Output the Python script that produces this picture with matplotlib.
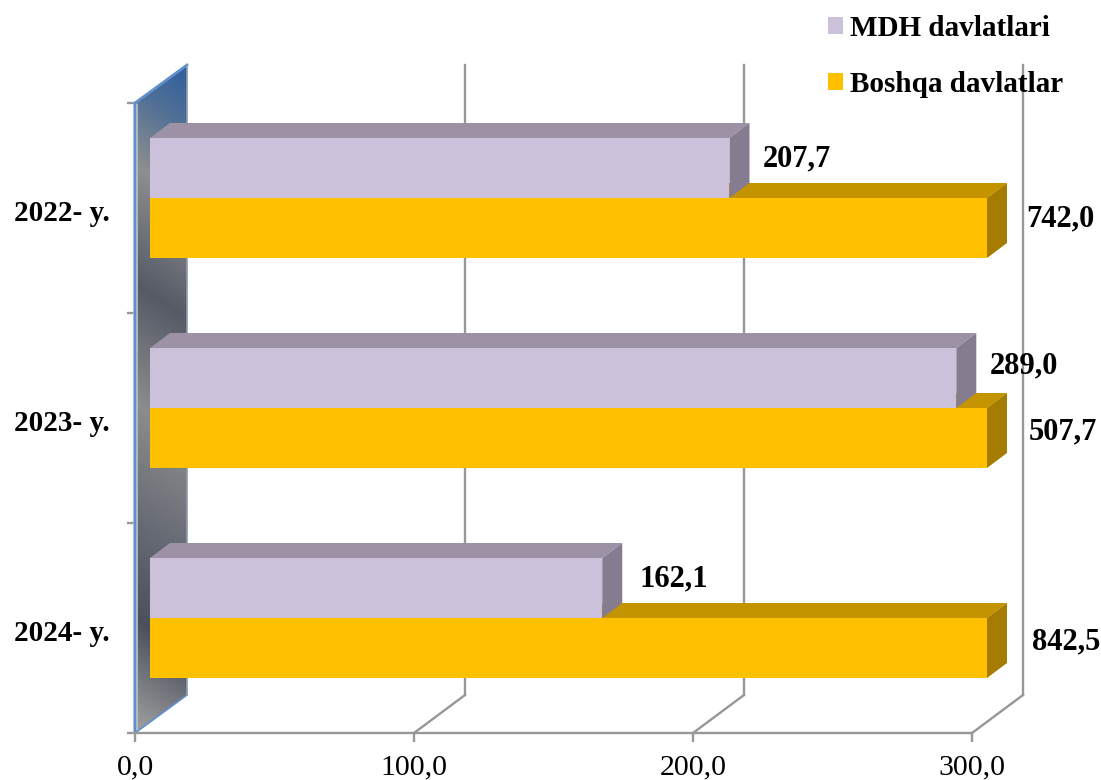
''' Horizontal pseudo-3D bars: MDH davlatlari vs Boshqa davlatlar '''
import numpy as np
import matplotlib
matplotlib.use("Agg")
import matplotlib.pyplot as plt
from matplotlib.colors import LinearSegmentedColormap
from matplotlib.patches import Patch, Polygon

years = ["2022- y.", "2023- y.", "2024- y."]
mdh = [207.7, 289.0, 162.1]
boshqa = [742.0, 507.7, 842.5]
x_ticks = [0, 100, 200, 300]
x_labels = ["0,0", "100,0", "200,0", "300,0"]
series_names = ["MDH davlatlari", "Boshqa davlatlar"]

plt.rcParams["font.family"] = ["Liberation Serif", "DejaVu Serif"]

W, H = 1101, 780
X_MAX = 300
GRAY = "#979797"
BLUE = "#5f8fce"
LW = 1.7

fig = plt.figure(figsize=(W / 100, H / 100), dpi=100)
ax = fig.add_axes([135 / W, (H - 733) / H, (972 - 135) / W, 630 / H])

# px -> data units, the axes are 837 x 630 px
px = X_MAX / 837
py = 3 / 630
pt = 0.72  # one px in points at dpi 100

depth_x, depth_y = 52 * px, 38 * py
grid_x = 51 * px
bar_dx, bar_dy = 15 * px, 10 * py
side_x, side_y = 20 * px, 15 * py
bar_h = 60 * py

y = np.arange(len(years))
y_bottom = len(years) - 0.5
y_top = -0.5

# side wall with the gradient
wall = Polygon([(0, y_bottom), (0, y_top), (depth_x, y_top - depth_y), (depth_x, y_bottom - depth_y)],
               closed=True, facecolor="none", edgecolor="none", zorder=1, clip_on=False)
ax.add_patch(wall)
cmap = LinearSegmentedColormap.from_list("wall", [
    (0.0, "#2f5f9e"), (0.08, "#4f6f96"), (0.19, "#8e8e8e"), (0.36, "#555a66"),
    (0.53, "#8c8c8c"), (0.70, "#666a74"), (0.84, "#4b505c"), (1.0, "#a2a2a2")])
gx, gy = np.meshgrid(np.linspace(0, 1, 60), np.linspace(0, 1, 400))
img = ax.imshow(gy * 0.95 + (1 - gx) * 0.05, cmap=cmap, vmin=0, vmax=1, aspect="auto", zorder=1,
                extent=[0, depth_x, y_bottom, y_top - depth_y])
img.set_clip_box(fig.bbox)
img.set_clip_path(wall)

ax.plot([0, 0], [y_bottom, y_top], color="#b9c2cc", lw=3.4, zorder=2, clip_on=False, solid_capstyle="butt")
ax.plot([0, 0], [y_bottom, y_top], color=BLUE, lw=1.7, zorder=2, clip_on=False, solid_capstyle="butt")
ax.plot([0, depth_x], [y_top, y_top - depth_y], color=BLUE, lw=2, zorder=2, clip_on=False)
ax.plot([0, depth_x], [y_bottom, y_bottom - depth_y], color=BLUE, lw=1.2, zorder=2, clip_on=False)
ax.plot([depth_x, depth_x], [y_top - depth_y, y_bottom - depth_y], color="#8f9cad", lw=1.2, zorder=2, clip_on=False)

# back grid and floor lines
for t in x_ticks[1:]:
    ax.plot([t + grid_x, t + grid_x], [y_top - depth_y, y_bottom - depth_y],
            color=GRAY, lw=LW, zorder=1, clip_on=False)
    ax.plot([t, t + grid_x], [y_bottom, y_bottom - depth_y], color=GRAY, lw=LW, zorder=1, clip_on=False)


def draw_faces(left, width, y_front, top_color, side_color, z):
    right = left + width
    top = [(left, y_front), (right, y_front), (right + side_x, y_front - side_y), (left + side_x, y_front - side_y)]
    side = [(right, y_front), (right, y_front + bar_h), (right + side_x, y_front + bar_h - side_y),
            (right + side_x, y_front - side_y)]
    ax.add_patch(Polygon(top, closed=True, facecolor=top_color, edgecolor="none", zorder=z, clip_on=False))
    ax.add_patch(Polygon(side, closed=True, facecolor=side_color, edgecolor="none", zorder=z, clip_on=False))


# bars are cut at the end of the axis, the labels keep the real values
w_mdh = np.minimum(mdh, X_MAX)
w_boshqa = np.minimum(boshqa, X_MAX)
for i in range(len(years)):
    top_mdh = y[i] - bar_dy - bar_h
    draw_faces(bar_dx, w_boshqa[i], top_mdh + bar_h, "#c39300", "#a67c00", 3)
    draw_faces(bar_dx, w_mdh[i], top_mdh, "#9d92a5", "#857c90", 4)
ax.barh(y - bar_dy + bar_h / 2, w_boshqa, height=bar_h, left=bar_dx, color="#ffc000", zorder=5, clip_on=False)
ax.barh(y - bar_dy - bar_h / 2, w_mdh, height=bar_h, left=bar_dx, color="#ccc1da", zorder=5, clip_on=False)

# value labels, offsets from the bar end in px (right, up)
offs_mdh = [(33, 9), (33, 12), (37, 9)]
offs_boshqa = [(39, 9), (42, 6), (45, 6)]
for i in range(len(years)):
    ax.annotate(f"{mdh[i]:.1f}".replace(".", ","), (bar_dx + w_mdh[i], y[i] - bar_dy - bar_h / 2),
                xytext=(offs_mdh[i][0] * pt, offs_mdh[i][1] * pt), textcoords="offset points",
                fontsize=22, fontweight="bold", va="center", ha="left", zorder=7, annotation_clip=False)
    ax.annotate(f"{boshqa[i]:.1f}".replace(".", ","), (bar_dx + w_boshqa[i], y[i] - bar_dy + bar_h / 2),
                xytext=(offs_boshqa[i][0] * pt, offs_boshqa[i][1] * pt), textcoords="offset points",
                fontsize=22, fontweight="bold", va="center", ha="left", zorder=7, annotation_clip=False)

ax.set_xlim(0, X_MAX)
ax.set_ylim(y_bottom, y_top)
ax.patch.set_visible(False)
for s in ["top", "right", "left"]:
    ax.spines[s].set_visible(False)
ax.spines["bottom"].set_color(GRAY)
ax.spines["bottom"].set_linewidth(LW)
ax.spines["bottom"].set_zorder(6)

ax.set_xticks(x_ticks)
ax.set_xticklabels(x_labels, fontsize=21.5)
ax.tick_params(axis="x", length=6.5, width=LW, color=GRAY, pad=9)
ax.set_yticks(np.arange(len(years) + 1) - 0.5)
ax.set_yticklabels([])
ax.tick_params(axis="y", which="major", length=6, width=LW, color=GRAY)
ax.set_yticks(y + 0.01, minor=True)
ax.set_yticklabels(years, minor=True, fontsize=21, fontweight="bold")
ax.tick_params(axis="y", which="minor", length=0, pad=18)

handles = [Patch(facecolor="#ccc1da", edgecolor="none"), Patch(facecolor="#ffc000", edgecolor="none")]
leg = fig.legend(handles, series_names, loc="upper left", bbox_to_anchor=(828 / W, 1 - 15 / H),
                 frameon=False, prop={"weight": "bold", "size": 21}, borderpad=0, borderaxespad=0,
                 handlelength=0.514, handleheight=0.514, handletextpad=0.24, labelspacing=1.0)
leg.set_zorder(10)

fig.savefig("out.png", dpi=100)
